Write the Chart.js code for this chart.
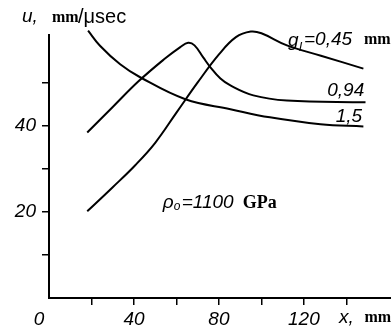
<!DOCTYPE html>
<html>
<head>
<meta charset="utf-8">
<script src="https://cdn.jsdelivr.net/npm/chart.js@4"></script>
<style>
html,body{margin:0;padding:0;background:#fff;}
canvas{display:block;}
</style>
</head>
<body>
<canvas id="c" width="391" height="332"></canvas>
<script>
// x positions (mm) and velocities u (mm/μsec) for each g_l curve
const x045 = [18, 30, 40.6, 50, 60, 70, 80, 88, 95, 100, 112, 128, 148];
const u045 = [20.1, 25.7, 30.8, 36, 43, 50, 56.5, 60.5, 61.8, 61.4, 58.6, 56.2, 53.2];

const x094 = [18, 30, 42, 54, 61.8, 65.5, 68.5, 72.6, 76, 80.7, 85.4, 96.2, 112, 149];
const u094 = [38.4, 44.3, 50.2, 55.3, 58.2, 59.2, 58.6, 55.8, 53.5, 50.9, 49.3, 47, 45.8, 45.4];

const x15 = [18.4, 24, 33.5, 42.9, 64.2, 85.4, 104, 127.8, 148];
const u15 = [62, 58.5, 54.2, 51.2, 46.1, 43.8, 41.9, 40.3, 39.8];

const xTickLabels = [40, 80, 120];
const yTickLabels = [20, 40];
const seriesLabels = ['0,45', '0,94', '1,5'];

const toPts = (xs, ys) => xs.map((x, i) => ({x: x, y: ys[i]}));

const italic = 'italic 19px "Liberation Sans", Arial, sans-serif';
const mmFont = 'bold 16px "Liberation Serif", serif';

const textPlugin = {
  id: 'texts',
  afterDraw(chart) {
    const ctx = chart.ctx;
    const xs = chart.scales.x, ys = chart.scales.y;
    const ca = chart.chartArea;
    ctx.save();
    ctx.fillStyle = '#000';
    ctx.textBaseline = 'alphabetic';
    ctx.textAlign = 'left';
    // axis title u
    ctx.font = italic;
    ctx.fillText('u,', ca.left - 27, 22);
    ctx.font = mmFont;
    ctx.fillText('mm', ca.left + 3, 22);
    ctx.font = '20px "Liberation Sans", Arial, sans-serif';
    ctx.fillText('/μsec', ca.left + 29, 23);
    // origin label
    ctx.font = italic;
    ctx.textAlign = 'center';
    ctx.fillText('0', ca.left - 10, 325);
    // x axis title
    ctx.textAlign = 'left';
    ctx.font = italic;
    ctx.fillText('x,', xs.getPixelForValue(136.5), 323);
    ctx.font = mmFont;
    ctx.fillText('mm', xs.getPixelForValue(148.5), 322);
    // series labels
    ctx.font = italic;
    let px = xs.getPixelForValue(112.5), py = ys.getPixelForValue(58.4);
    ctx.fillText('g', px, py);
    ctx.font = 'italic 13px "Liberation Sans", Arial, sans-serif';
    ctx.fillText('l', px + 11, py + 5);
    ctx.font = italic;
    ctx.fillText('=' + seriesLabels[0], px + 16, py - 1);
    ctx.font = mmFont;
    ctx.fillText('mm', px + 76, py - 2);
    ctx.font = italic;
    ctx.fillText(seriesLabels[1], xs.getPixelForValue(131), ys.getPixelForValue(46.8));
    ctx.fillText(seriesLabels[2], xs.getPixelForValue(135), ys.getPixelForValue(40.9));
    // rho annotation
    px = xs.getPixelForValue(53.5); py = ys.getPixelForValue(20.8);
    ctx.fillText('ρ', px, py);
    ctx.font = 'italic 12px "Liberation Sans", Arial, sans-serif';
    ctx.fillText('o', px + 11, py + 2);
    ctx.font = italic;
    ctx.fillText('=1100', px + 19, py);
    ctx.font = 'bold 18px "Liberation Serif", serif';
    ctx.fillText('GPa', px + 80, py);
    ctx.restore();
  }
};

const ds = (xs, ys) => ({
  data: toPts(xs, ys),
  borderColor: '#000',
  borderWidth: 2,
  pointRadius: 0,
  tension: 0.4,
  fill: false,
  clip: false
});

new Chart(document.getElementById('c'), {
  type: 'line',
  data: { datasets: [ds(x045, u045), ds(x094, u094), ds(x15, u15)] },
  plugins: [textPlugin],
  options: {
    responsive: false,
    devicePixelRatio: 1,
    animation: false,
    layout: { padding: { top: 35, left: 0, right: 0, bottom: 0 } },
    plugins: { legend: { display: false }, tooltip: { enabled: false } },
    scales: {
      x: {
        type: 'linear',
        min: 0, max: 161,
        afterBuildTicks(s) { s.ticks = s.ticks.filter(t => t.value >= 20 && t.value <= 140); },
        afterFit(s) { s.height = 34; },
        ticks: {
          stepSize: 20,
          autoSkip: false,
          maxRotation: 0,
          padding: 3,
          color: '#000',
          font: { family: '"Liberation Sans", Arial, sans-serif', size: 19, style: 'italic' },
          callback: v => xTickLabels.includes(v) ? String(v) : ''
        },
        grid: { drawOnChartArea: false, drawTicks: true, tickLength: 7, color: '#000', lineWidth: 1.5 },
        border: { display: true, color: '#000', width: 2 }
      },
      y: {
        type: 'linear',
        min: 0, max: 61,
        afterBuildTicks(s) { s.ticks = s.ticks.filter(t => t.value >= 10 && t.value <= 50); },
        afterFit(s) { s.width = 49; },
        ticks: {
          stepSize: 10,
          autoSkip: false,
          padding: 6,
          color: '#000',
          font: { family: '"Liberation Sans", Arial, sans-serif', size: 19, style: 'italic' },
          callback: v => yTickLabels.includes(v) ? String(v) : ''
        },
        grid: { drawOnChartArea: false, drawTicks: true, tickLength: 7, color: '#000', lineWidth: 1.5 },
        border: { display: true, color: '#000', width: 2 }
      }
    }
  }
});
</script>
</body>
</html>
